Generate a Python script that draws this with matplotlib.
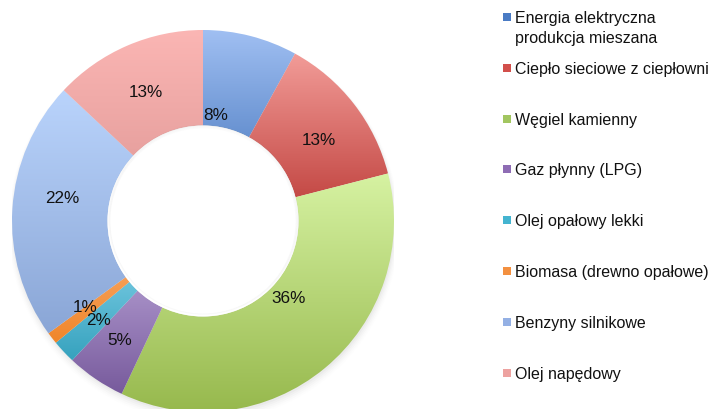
import numpy as np
import matplotlib
matplotlib.use("Agg")
import matplotlib.pyplot as plt
from matplotlib.colors import LinearSegmentedColormap

plt.rcParams['font.family'] = ['Liberation Sans', 'DejaVu Sans']

# ---- data ----
categories = [
    "Energia elektryczna\nprodukcja mieszana",
    "Ciepło sieciowe z ciepłowni",
    "Węgiel kamienny",
    "Gaz płynny (LPG)",
    "Olej opałowy lekki",
    "Biomasa (drewno opałowe)",
    "Benzyny silnikowe",
    "Olej napędowy",
]
values = [8, 13, 36, 5, 2, 1, 22, 13]
pct_labels = ["8%", "13%", "36%", "5%", "2%", "1%", "22%", "13%"]

# ---- style ----
grad_top = ["#a0bff2", "#f29c98", "#d6f2a2", "#c6b2e2", "#94dcf2", "#fbb27a", "#bad4fc", "#fbb6b4"]
grad_bot = ["#3a6db6", "#bd3c38", "#96b84c", "#775a9c", "#36a2be", "#f0862a", "#8aa6d6", "#de9694"]
legend_col = ["#4a7bc4", "#d24f4b", "#a2c660", "#8e6cb4", "#44b4d0", "#f39040", "#94b0e4", "#eda2a0"]
label_r = [0.56, 0.74, 0.60, 0.76, 0.75, 0.76, 0.75, 0.74]
label_dang = [7.4, -2.8, 8.4, -0.8, 0.0, -1.8, -6.0, 0.6]

W, H = 714, 410
fig = plt.figure(figsize=(W / 100, H / 100), dpi=100)
cx, cy, R = 203, 222, 191
ax = fig.add_axes([(cx - R) / W, (H - cy - R) / H, 2 * R / W, 2 * R / H])
ax.set_xlim(-1, 1)
ax.set_ylim(-1, 1)
ax.axis('off')

# subtle shadow
for i, a in enumerate(np.linspace(0.05, 0.01, 5)):
    circ = plt.Circle((0.004, -0.012 - 0.004 * i), 1.0 + 0.006 * i, color='#888888', alpha=a, lw=0, zorder=0)
    ax.add_patch(circ)

wedges, _ = ax.pie(values, startangle=90, counterclock=False, radius=1.0,
                   wedgeprops=dict(width=0.5, linewidth=0, facecolor='none'))

grad = np.linspace(0, 1, 256).reshape(-1, 1)
for w, ct, cb in zip(wedges, grad_top, grad_bot):
    path = w.get_path()
    verts = path.vertices
    x0, x1 = verts[:, 0].min(), verts[:, 0].max()
    y0, y1 = verts[:, 1].min(), verts[:, 1].max()
    cmap = LinearSegmentedColormap.from_list('g', [cb, ct])
    im = ax.imshow(grad, cmap=cmap, extent=[x0, x1, y0, y1], origin='lower',
                   aspect='auto', zorder=1, interpolation='bilinear')
    w.set_zorder(2)
    im.set_clip_path(w)

# hole with faint inner shadow
ax.add_patch(plt.Circle((0, 0), 0.5, color='white', lw=0, zorder=3))
for i, a in enumerate(np.linspace(0.06, 0.01, 4)):
    ax.add_patch(plt.Circle((0.003, 0.008), 0.5 - 0.006 * (i + 1), fill=False,
                            edgecolor='#999999', alpha=a, lw=1.2, zorder=3))
ax.add_patch(plt.Circle((0, 0), 0.485, color='white', lw=0, zorder=3))
ax.set_xlim(-1, 1)
ax.set_ylim(-1, 1)
ax.set_aspect('auto')

for w, lab, r, da in zip(wedges, pct_labels, label_r, label_dang):
    ang = np.deg2rad((w.theta1 + w.theta2) / 2 + da)
    ax.text(r * np.cos(ang), r * np.sin(ang), lab, ha='center', va='center',
            fontsize=12.3, color='#111111', zorder=5)

# legend (manual)
y_first = 18
step = 50.8
for i, (cat, col) in enumerate(zip(categories, legend_col)):
    ym = y_first + i * step
    fig.patches.append(plt.Rectangle((503 / W, (H - ym - 4) / H), 8 / W, 8 / H,
                                     transform=fig.transFigure, color=col, lw=0))
    fig.text(515 / W, (H - ym + 7) / H, cat, ha='left', va='top', fontsize=11.5,
             color='#111111', linespacing=1.4)

fig.savefig('out.png', dpi=100)
